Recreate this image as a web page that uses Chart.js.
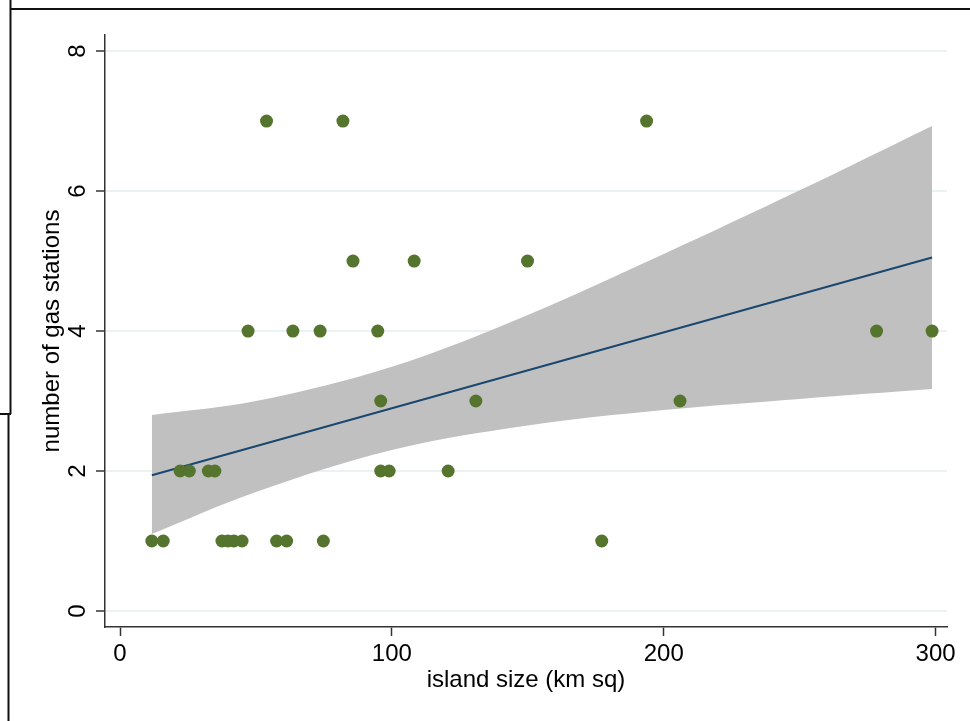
<!DOCTYPE html>
<html>
<head>
<meta charset="utf-8">
<script src="https://cdn.jsdelivr.net/npm/chart.js@4"></script>
<style>
    html, body { margin: 0; padding: 0; background: #fff; }
    #wrap { width: 970px; height: 721px; position: relative; }
</style>
</head>
<body>
<div id="wrap"><canvas id="chart"></canvas></div>
<script>
/* ================= DATA ================= */

// island size (km sq) and number of gas stations, one entry per island
const islandSize = [
    11.7, 15.9, 37.5, 39.7, 41.9, 44.9, 57.6, 61.3, 74.8, 177.2,
    22.1, 25.5, 32.5, 34.9, 95.9, 99.0, 120.7,
    95.9, 130.9, 206.0,
    47.1, 63.6, 73.6, 94.8, 278.3, 298.7,
    85.7, 108.2, 149.9,
    53.9, 82.0, 193.7
];
const gasStations = [
    1, 1, 1, 1, 1, 1, 1, 1, 1, 1,
    2, 2, 2, 2, 2, 2, 2,
    3, 3, 3,
    4, 4, 4, 4, 4, 4,
    5, 5, 5,
    7, 7, 7
];

// fitted line end points
const fitX = [11.7, 298.7];
const fitY = [1.94, 5.05];

// 95% confidence band
const bandX     = [11.7, 50, 100, 150, 200, 250, 298.7];
const bandUpper = [2.80, 3.00, 3.49, 4.23, 5.10, 6.01, 6.93];
const bandLower = [1.10, 1.70, 2.30, 2.65, 2.87, 3.03, 3.17];

const xTicks = [0, 100, 200, 300];
const yTicks = [0, 2, 4, 6, 8];

/* ================= HELPERS ================= */

const FONT = "'Liberation Sans', Arial, sans-serif";
const pairs = (xs, ys) => xs.map((x, i) => ({ x, y: ys[i] }));

// y tick labels are turned on their side, like the axis title
const sideLabels = {
    id: "sideLabels",
    afterDraw(chart) {
        const ctx = chart.ctx;
        const y = chart.scales.y;
        ctx.save();
        ctx.fillStyle = "#000";
        ctx.font = "24px " + FONT;
        ctx.textAlign = "center";
        ctx.textBaseline = "middle";
        yTicks.forEach(v => {
            ctx.save();
            ctx.translate(78, y.getPixelForValue(v));
            ctx.rotate(-Math.PI / 2);
            ctx.fillText(String(v), 0, 0);
            ctx.restore();
        });

        // frame left over from the surrounding page
        ctx.strokeStyle = "#111";
        ctx.lineWidth = 2;
        ctx.beginPath();
        ctx.moveTo(10, 9); ctx.lineTo(970, 9);
        ctx.moveTo(10.5, 0); ctx.lineTo(10.5, 414);
        ctx.moveTo(0, 414); ctx.lineTo(11, 414);
        ctx.moveTo(8.5, 414); ctx.lineTo(8.5, 721);
        ctx.stroke();
        ctx.save();
        ctx.translate(-7, 350);
        ctx.rotate(-Math.PI / 2);
        ctx.fillText("0", 0, 0);
        ctx.restore();
        ctx.restore();
    }
};

/* ================= CHART ================= */

new Chart(document.getElementById("chart"), {
    type: "scatter",
    data: {
        datasets: [
            {
                label: "islands",
                data: pairs(islandSize, gasStations),
                backgroundColor: "#55752f",
                borderWidth: 0,
                pointRadius: 6.5,
                pointHoverRadius: 6.5
            },
            {
                label: "fit",
                data: pairs(fitX, fitY),
                showLine: true,
                borderColor: "#1a476f",
                borderWidth: 2,
                pointRadius: 0
            },
            {
                label: "lower",
                data: pairs(bandX, bandLower),
                showLine: true,
                borderWidth: 0,
                borderColor: "rgba(0,0,0,0)",
                pointRadius: 0,
                tension: 0.35
            },
            {
                label: "upper",
                data: pairs(bandX, bandUpper),
                showLine: true,
                borderWidth: 0,
                borderColor: "rgba(0,0,0,0)",
                backgroundColor: "#c0c0c0",
                pointRadius: 0,
                tension: 0.35,
                fill: "-1"
            }
        ]
    },
    options: {
        responsive: true,
        maintainAspectRatio: false,
        animation: false,
        layout: { padding: { top: 35, right: 23, left: 0, bottom: 0 } },
        plugins: {
            legend: { display: false },
            tooltip: { enabled: false }
        },
        scales: {
            x: {
                type: "linear",
                min: -5.52,
                max: 304.2,
                afterFit: s => { s.height = 94; },
                afterBuildTicks: s => { s.ticks = xTicks.map(v => ({ value: v })); },
                border: { color: "#333", width: 1.5 },
                grid: {
                    color: "rgba(0,0,0,0)",
                    tickColor: "#333",
                    tickLength: 9,
                    tickWidth: 1.5
                },
                ticks: {
                    color: "#000",
                    font: { family: FONT, size: 24 },
                    padding: 4,
                    maxRotation: 0
                },
                title: {
                    display: true,
                    text: "island size (km sq)",
                    color: "#000",
                    font: { family: FONT, size: 24 },
                    padding: { top: 0, bottom: 26 }
                }
            },
            y: {
                type: "linear",
                min: -0.229,
                max: 8.23,
                afterFit: s => { s.width = 105; },
                afterBuildTicks: s => { s.ticks = yTicks.map(v => ({ value: v })); },
                border: { color: "#333", width: 1.5 },
                grid: {
                    color: "#eaf2f3",
                    lineWidth: 2,
                    tickColor: "#333",
                    tickLength: 9,
                    tickWidth: 1.5
                },
                ticks: { display: false },
                title: {
                    display: true,
                    text: "number of gas stations",
                    color: "#000",
                    font: { family: FONT, size: 24 },
                    padding: { top: 38, bottom: 0 }
                }
            }
        }
    },
    plugins: [sideLabels]
});
</script>
</body>
</html>
